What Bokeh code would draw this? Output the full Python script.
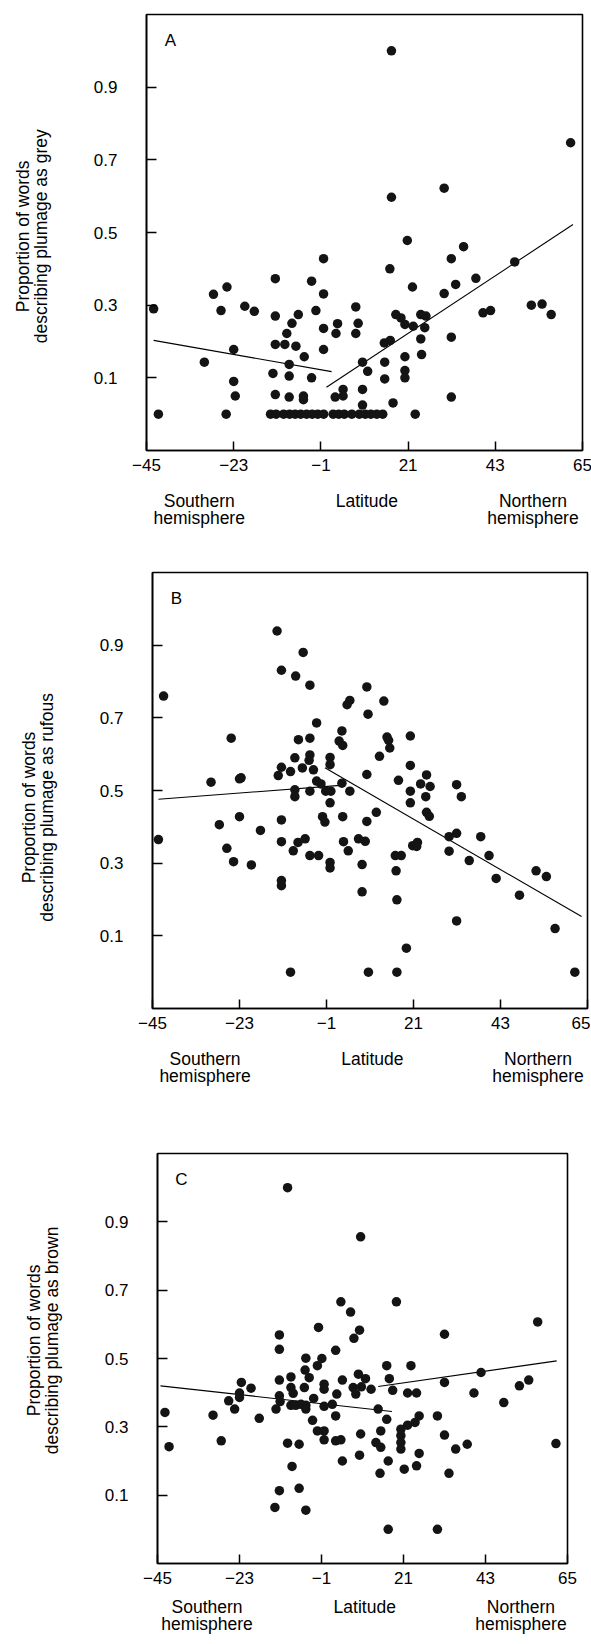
import math
from bokeh.plotting import figure
from bokeh.models import Range1d, FixedTicker, Label, LinearAxis
from bokeh.embed import file_html
from bokeh.resources import INLINE

FONT = "Liberation Sans"

# x tick labels (latitude) and y ticks
x_ticks = [-45, -23, -1, 21, 43, 65]
y_ticks = [0.1, 0.3, 0.5, 0.7, 0.9]
# captions under the x axis
caption_pos = [-31.7, 10.6, 52.5]
caption_top = ["Southern", "Latitude", "Northern"]
caption_bottom = ["hemisphere", "", "hemisphere"]

# ---------------- Panel A : grey ----------------
grey_lat = [-43.2, -42, -28.1, -24.7, -26.2, -20.2, -17.8, -23, -30.4, -23, -22.6, -24.9,
            -12.5, -12.5, -12.5, -10.1, -13.1, -12.5, -9, -9, -9, -9.6, -8.3, -6.7, -7.3,
            -5.2, -5.4, -5.4, -3.35, -3.35, -2.26, -0.33, -0.33, -0.33, -0.33, 3.2, 2.8,
            7.8, 8.4, 7.8, 9.5, 10.8, 2.6, 4.6, 4.6, 9.5, 9.5,
            -13.7, -12.3, -10.4, -8.9, -7.5, -6.1, -4.6, -3.2, -1.8, -0.3, 2.1, 3.5, 4.9,
            6.8, 8.7, 10.2, 11.6, 13.1, 14.6, 22.8,
            16.8, 62, 16.8, 30.1, 20.8, 35, 31.9, 16.4, 47.9, 22.1, 33, 38.1, 30.1, 39.9,
            41.8, 52.1, 54.8, 57.1, 17.9, 19.2, 20.2, 22.3, 24.2, 25.5, 25.2, 24.2, 31.9,
            15, 16.5, 24.4, 20.2, 15.1, 20.2, 20.2, 15.1, 31.9, 17.2]
grey_val = [0.29, 0.0, 0.33, 0.35, 0.285, 0.297, 0.283, 0.178, 0.143, 0.09, 0.05, 0.0,
            0.373, 0.27, 0.192, 0.192, 0.112, 0.054, 0.047, 0.137, 0.105, 0.222, 0.25, 0.274, 0.187,
            0.158, 0.05, 0.04, 0.366, 0.1, 0.285, 0.428, 0.331, 0.236, 0.178, 0.249, 0.222,
            0.295, 0.25, 0.222, 0.143, 0.118, 0.047, 0.068, 0.05, 0.068, 0.025,
            0, 0, 0, 0, 0, 0, 0, 0, 0, 0, 0, 0, 0,
            0, 0, 0, 0, 0, 0, 0,
            1.0, 0.747, 0.597, 0.622, 0.478, 0.461, 0.428, 0.4, 0.419, 0.35, 0.357, 0.374, 0.332, 0.279,
            0.285, 0.3, 0.303, 0.274, 0.274, 0.265, 0.247, 0.242, 0.274, 0.27, 0.238, 0.207, 0.212,
            0.196, 0.203, 0.164, 0.158, 0.143, 0.12, 0.1, 0.097, 0.047, 0.031]
grey_fit_south_x = [-43.2, 1.7]
grey_fit_south_y = [0.203, 0.117]
grey_fit_north_x = [0.4, 62.6]
grey_fit_north_y = [0.074, 0.522]

# ---------------- Panel B : rufous ----------------
rufous_lat = [-42.2, -43.5, -13.5, -6.9, -12.4, -8.8, -5.2, 9.2, 4.9, 4.2, 9.5, -3.5, 2.9, 2.2,
              3.1, -25.1, -8.1, -5.2, -9, -5.2, -5.4, -0.1, -0.1, -12.4, -13.2, -10.1, -7.1,
              -4.3, -30.2, -23, -22.6, -3.5, -2.4, 2.9, 9.2, -9, -9, -5.2, -1.2, 0.1, 4.9,
              -0.1, -2, -1.4, 3.1, 9.2, -28.1, -23, -17.7, -12.4, -26.2, -24.5, -20, -12.4,
              -8.2, -6.4, -9.4, -5.2, -3, -0.1, -0.1, 3.3, 4.5, 7.1, 8.8, 8, -12.4, -12.4, 8,
              -10.1, 9.6,
              13.5, 14.3, 14.7, 15, 12.4, 20.2, 20.2, 17.2, 20.2, 20.2, 22.8, 24.3, 25.2, 24.1,
              24.3, 25, 31.9, 33.1, 11.6, 30, 31.9, 38, 40.1, 30, 35.1, 20.8, 22, 21.8, 16.4,
              17.9, 16.6, 16.8, 41.9, 47.8, 52, 54.6, 56.8, 31.9, 19.2, 16.8, 61.8]
rufous_val = [0.76, 0.365, 0.939, 0.88, 0.831, 0.815, 0.79, 0.785, 0.748, 0.736, 0.71, 0.686, 0.664, 0.636,
              0.624, 0.644, 0.64, 0.644, 0.59, 0.598, 0.583, 0.591, 0.571, 0.564, 0.541, 0.552, 0.562,
              0.557, 0.523, 0.532, 0.535, 0.526, 0.518, 0.52, 0.544, 0.502, 0.483, 0.498, 0.498, 0.498, 0.498,
              0.466, 0.428, 0.413, 0.428, 0.415, 0.406, 0.428, 0.39, 0.419, 0.341, 0.304, 0.295, 0.359,
              0.357, 0.367, 0.334, 0.321, 0.321, 0.302, 0.287, 0.359, 0.334, 0.367, 0.36, 0.296, 0.252, 0.238, 0.221,
              0.0, 0.0,
              0.746, 0.647, 0.638, 0.617, 0.594, 0.65, 0.569, 0.528, 0.498, 0.466, 0.518, 0.543, 0.511, 0.483,
              0.44, 0.429, 0.516, 0.483, 0.44, 0.373, 0.382, 0.373, 0.321, 0.333, 0.307, 0.348, 0.357, 0.346, 0.321,
              0.321, 0.279, 0.199, 0.258, 0.212, 0.279, 0.263, 0.12, 0.141, 0.066, 0.0, 0.0]
rufous_fit_south_x = [-43.5, 2.5]
rufous_fit_south_y = [0.476, 0.514]
rufous_fit_north_x = [-1.4, 63.5]
rufous_fit_north_y = [0.5625, 0.153]

# ---------------- Panel C : brown ----------------
brown_lat = [-10.1, 9.5, 4.2, 6.8, 9.2, 7.7, -1.8, -12.3, -12.3, 2.8, -5.2, -0.9, -2.1, -5.4, -4.3,
             -9.2, -12.3, 4.6, 8.9, 10.8, 7.5, 8.2, 9.7, -22.5, -19.9, -23, -23, -25.9, -24.3, -30.1,
             -17.7, -43, -41.9, -27.9, -13.2, -12.3, -12.1, -9.2, -8.6, -9.2, -7.9, -6.5, -5.2, -5.2,
             -5.6, -3.1, -0.3, -0.3, -0.3, 1.9, 3.1, 2.8, -3.4, -2.1, -0.3, -0.3, 2.8, 4.2, 9.5, 9.2,
             4.6, -10.1, -7, -8.9, -12.3, -7, -13.5, -5.2,
             19.1, 32, 57, 16.5, 23, 17.2, 18.1, 12.3, 22.1, 24.5, 32, 41.8, 39.9, 52.1, 54.6, 47.9,
             14.2, 16.5, 25.2, 24.1, 22.1, 20.3, 20.3, 20.3, 20.3, 14.9, 13.6, 14.9, 30.1, 32, 38.1,
             35, 25.2, 16.9, 14.7, 21.2, 24.5, 33.2, 61.9, 16.9, 30.1]
brown_val = [1.0, 0.856, 0.666, 0.636, 0.583, 0.559, 0.591, 0.569, 0.527, 0.524, 0.501, 0.5, 0.479, 0.466, 0.444,
             0.446, 0.437, 0.437, 0.454, 0.441, 0.415, 0.396, 0.417, 0.43, 0.413, 0.399, 0.386, 0.376, 0.352, 0.334,
             0.325, 0.342, 0.242, 0.259, 0.352, 0.391, 0.374, 0.415, 0.398, 0.363, 0.363, 0.366, 0.363, 0.352,
             0.415, 0.383, 0.425, 0.41, 0.36, 0.366, 0.396, 0.332, 0.319, 0.288, 0.288, 0.262, 0.259, 0.262, 0.279, 0.217,
             0.2, 0.252, 0.249, 0.184, 0.113, 0.12, 0.064, 0.056,
             0.666, 0.571, 0.607, 0.479, 0.479, 0.441, 0.407, 0.41, 0.399, 0.399, 0.43, 0.459, 0.399, 0.42, 0.437, 0.371,
             0.352, 0.322, 0.332, 0.313, 0.305, 0.293, 0.274, 0.254, 0.235, 0.288, 0.254, 0.24, 0.332, 0.276, 0.249,
             0.235, 0.222, 0.2, 0.164, 0.176, 0.186, 0.164, 0.251, 0.0, 0.0]
brown_fit_south_x = [-44.2, 17.9]
brown_fit_south_y = [0.42, 0.345]
brown_fit_north_x = [14.2, 62.1]
brown_fit_north_y = [0.418, 0.493]

# layout of each panel (pixels); t2_at / t1_at: axis position where each rotated
# y-title line ends (its top end)
panels = [
    dict(letter="A", colour_word="grey", lat=grey_lat, val=grey_val,
         fits=[(grey_fit_south_x, grey_fit_south_y), (grey_fit_north_x, grey_fit_north_y)],
         fw=436, fh=436, left=143, right=11, top=14, bottom=80,
         t2_at=0.784, t1_at=0.698, cap_standoff=17),
    dict(letter="B", colour_word="rufous", lat=rufous_lat, val=rufous_val,
         fits=[(rufous_fit_south_x, rufous_fit_south_y), (rufous_fit_north_x, rufous_fit_north_y)],
         fw=435, fh=436, left=152, right=3, top=42, bottom=80,
         t2_at=0.768, t1_at=0.662, cap_standoff=17),
    dict(letter="C", colour_word="brown", lat=brown_lat, val=brown_val,
         fits=[(brown_fit_south_x, brown_fit_south_y), (brown_fit_north_x, brown_fit_north_y)],
         fw=410, fh=410, left=157, right=23, top=65, bottom=80,
         t2_at=0.886, t1_at=0.775, cap_standoff=10),
]

CAP_SIZE = "17.5px"


def style_text_axis(ax):
    ax.axis_line_color = None
    ax.major_tick_line_color = None
    ax.minor_tick_line_color = None
    ax.major_tick_in = 0
    ax.major_tick_out = 0
    ax.major_label_text_font = FONT
    ax.major_label_text_font_size = CAP_SIZE
    ax.major_label_text_color = "black"


def make_panel(cfg):
    p = figure(frame_width=cfg["fw"], frame_height=cfg["fh"],
               x_range=Range1d(-45, 65), y_range=Range1d(-0.1, 1.1),
               output_backend="svg", toolbar_location=None,
               min_border_left=cfg["left"], min_border_right=cfg["right"],
               min_border_top=cfg["top"], min_border_bottom=cfg["bottom"])
    p.background_fill_color = "white"
    p.border_fill_color = "white"
    p.grid.visible = False
    p.outline_line_color = "black"
    p.outline_line_width = 1.6

    for ax in (p.xaxis, p.yaxis):
        ax.axis_line_color = "black"
        ax.axis_line_width = 1.6
        ax.major_tick_line_color = "black"
        ax.major_tick_line_width = 1.5
        ax.major_tick_out = 0
        ax.minor_tick_line_color = None
        ax.major_label_text_font = FONT
        ax.major_label_text_font_size = "17px"
        ax.major_label_text_color = "black"
    p.xaxis.ticker = FixedTicker(ticks=x_ticks)
    p.yaxis.ticker = FixedTicker(ticks=y_ticks)
    p.xaxis.major_tick_in = 9
    p.yaxis.major_tick_in = 10
    p.xaxis.major_label_standoff = 8
    p.yaxis.major_label_standoff = 29

    # y-axis title, two lines, as rotated labels of two text-only axes
    y2, y1 = cfg["t2_at"], cfg["t1_at"]
    ax2 = LinearAxis(ticker=FixedTicker(ticks=[y2]),
                     major_label_overrides={y2: "describing plumage as " + cfg["colour_word"]},
                     major_label_orientation=math.pi / 2)
    style_text_axis(ax2)
    ax2.major_label_standoff = 49
    p.add_layout(ax2, "left")
    ax3 = LinearAxis(ticker=FixedTicker(ticks=[y1]),
                     major_label_overrides={y1: "Proportion of words"},
                     major_label_orientation=math.pi / 2)
    style_text_axis(ax3)
    ax3.major_label_standoff = -5
    p.add_layout(ax3, "left")

    # captions under the x axis
    cap1 = LinearAxis(ticker=FixedTicker(ticks=caption_pos),
                      major_label_overrides={k: t for k, t in zip(caption_pos, caption_top)})
    style_text_axis(cap1)
    cap1.major_label_standoff = cfg["cap_standoff"]
    p.add_layout(cap1, "below")
    cap2 = LinearAxis(ticker=FixedTicker(ticks=[c for c, t in zip(caption_pos, caption_bottom) if t]),
                      major_label_overrides={k: t for k, t in zip(caption_pos, caption_bottom) if t})
    style_text_axis(cap2)
    cap2.major_label_standoff = -6
    p.add_layout(cap2, "below")

    for fx, fy in cfg["fits"]:
        p.line(fx, fy, line_color="black", line_width=1.1)
    p.scatter(cfg["lat"], cfg["val"], size=9.5, fill_color="#141414",
              line_color="#141414", line_width=0)

    p.add_layout(Label(x=-45, y=1.1, x_offset=24, y_offset=-26, text=cfg["letter"],
                       text_font=FONT, text_font_size="17px", text_color="black",
                       text_align="center", text_baseline="middle"))
    return p


figs = [make_panel(c) for c in panels]
open("out.html", "w").write(file_html(figs, INLINE))
